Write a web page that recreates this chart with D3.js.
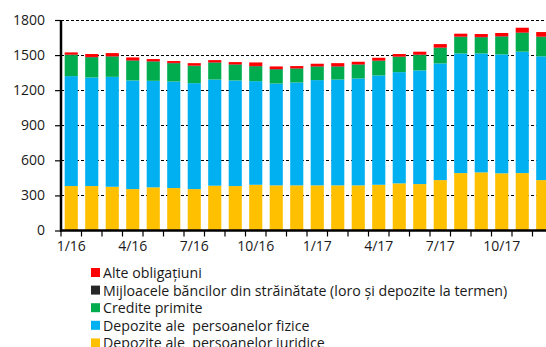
<!DOCTYPE html>
<html>
<head>
<meta charset="utf-8">
<script src="https://cdn.jsdelivr.net/npm/d3@7"></script>
<style>
  html, body { margin: 0; padding: 0; background: #fff; }
  svg { display: block; font-family: "Open Sans", Lato, sans-serif; }
</style>
</head>
<body>
<svg id="chart" width="546" height="347"></svg>
<script>
// Monthly categories, 1/16 through 12/17
const months = [
  "1/16","2/16","3/16","4/16","5/16","6/16","7/16","8/16","9/16","10/16","11/16","12/16",
  "1/17","2/17","3/17","4/17","5/17","6/17","7/17","8/17","9/17","10/17","11/17","12/17"
];
const tickLabels = ["1/16","4/16","7/16","10/16","1/17","4/17","7/17","10/17"];
const yTicks = [0, 300, 600, 900, 1200, 1500, 1800];

// Stacked series, bottom to top
const depoziteJuridice = [380,380,374,354,369,363,354,383,380,391,386,386,386,386,386,391,403,397,431,491,497,489,491,431];
const depoziteFizice   = [940,929,940,929,911,911,906,908,903,886,871,880,900,905,914,935,951,972,998,1023,1017,1017,1038,1058];
const creditePrimite   = [180,171,172,168,163,155,146,143,134,126,120,117,114,109,117,123,129,131,131,140,137,151,160,165];
const mijloaceBanci    = [4,4,4,4,4,4,4,4,4,4,4,4,4,4,4,4,4,4,4,4,4,4,4,4];
const alteObligatiuni  = [19,25,27,25,19,16,21,19,19,30,22,19,22,27,22,24,22,25,30,25,25,28,41,39];

const seriesNames = [
  "Depozite ale  persoanelor juridice",
  "Depozite ale  persoanelor fizice",
  "Credite primite",
  "Mijloacele băncilor din străinătate (loro și depozite la termen)",
  "Alte obligațiuni"
];
const seriesColors = ["#ffc000", "#00b0f0", "#00ac4e", "#262626", "#ff0000"];
const seriesValues = [depoziteJuridice, depoziteFizice, creditePrimite, mijloaceBanci, alteObligatiuni];

const svg = d3.select("#chart");
const plotLeft = 61, plotTop = 20, plotBottom = 230.5, plotRight = 553;
const fontStack = "'Open Sans', Lato, sans-serif";

const rows = months.map((m, i) => {
  const r = { month: m };
  seriesNames.forEach((n, k) => r[n] = seriesValues[k][i]);
  return r;
});
const stacked = d3.stack().keys(seriesNames)(rows);

const x = d3.scaleBand().domain(months).range([plotLeft, plotRight]).paddingInner(0.36).paddingOuter(0.18);
const y = d3.scaleLinear().domain([0, 1800]).range([plotBottom, plotTop]);

// dashed horizontal grid
svg.append("g")
  .selectAll("line")
  .data(yTicks.filter(d => d > 0))
  .join("line")
  .attr("x1", plotLeft).attr("x2", 546)
  .attr("y1", d => Math.round(y(d)) + 0.5).attr("y2", d => Math.round(y(d)) + 0.5)
  .attr("stroke", "#000").attr("stroke-width", 1).attr("stroke-dasharray", "3,2");

// bars
svg.append("g")
  .selectAll("g")
  .data(stacked)
  .join("g")
  .attr("fill", (d, i) => seriesColors[i])
  .selectAll("rect")
  .data(d => d)
  .join("rect")
  .attr("x", d => x(d.data.month))
  .attr("width", x.bandwidth())
  .attr("y", d => y(d[1]))
  .attr("height", d => y(d[0]) - y(d[1]));

// y axis
const yAxis = svg.append("g")
  .attr("transform", `translate(${plotLeft},0)`)
  .call(d3.axisLeft(y).tickValues(yTicks).tickFormat(d3.format("d"))
    .tickSize(6).tickPadding(10).tickSizeOuter(0));
yAxis.select(".domain").attr("stroke-width", 2.5).attr("d", `M0,${plotTop}V${plotBottom + 1}`);
yAxis.selectAll(".tick line").attr("stroke-width", 1.2);
yAxis.selectAll("text").attr("font-size", 14).attr("fill", "#1a1a1a").attr("font-family", fontStack);

// x axis: labels every quarter, tick marks on band boundaries
const xAxis = svg.append("g")
  .attr("transform", `translate(0,${plotBottom})`)
  .call(d3.axisBottom(x).tickValues(tickLabels).tickSize(0).tickPadding(11));
xAxis.select(".domain").attr("stroke-width", 2.5).attr("d", `M${plotLeft - 1},0H${plotRight}`);
xAxis.selectAll("text").attr("font-size", 14).attr("fill", "#1a1a1a").attr("font-family", fontStack);

const step = x.step();
const boundaries = months.map(m => x(m) - step * x.paddingInner() / 2);
boundaries.push(boundaries[boundaries.length - 1] + step);
svg.append("g")
  .selectAll("line")
  .data(boundaries)
  .join("line")
  .attr("x1", d => d).attr("x2", d => d)
  .attr("y1", plotBottom).attr("y2", plotBottom + 6)
  .attr("stroke", "#000").attr("stroke-width", 1.2);

// legend, top entry is the top of the stack
const legendItems = seriesNames.map((n, i) => ({ name: n, color: seriesColors[i] })).reverse();
const legend = svg.append("g").attr("transform", "translate(91,268)");
const item = legend.selectAll("g")
  .data(legendItems)
  .join("g")
  .attr("transform", (d, i) => `translate(0,${i * 17.6})`);
item.append("rect").attr("width", 9).attr("height", 9).attr("fill", d => d.color);
item.append("text")
  .attr("x", 12).attr("y", 9.9)
  .attr("font-size", 14.2)
  .attr("font-family", fontStack)
  .attr("fill", "#1a1a1a")
  .style("white-space", "pre")
  .text(d => d.name);
</script>
</body>
</html>
